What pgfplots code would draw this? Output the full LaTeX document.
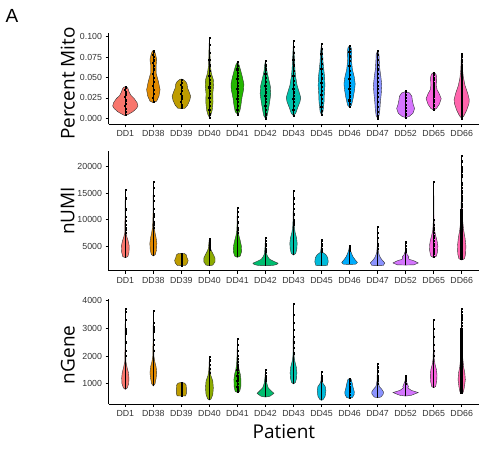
\documentclass[border=0pt]{standalone}
\usepackage{fontspec}
\setmainfont{Liberation Sans}
\newfontfamily\titlefont{Open Sans}
\usepackage{pgfplots}
\pgfplotsset{compat=1.18}

\definecolor{c1}{HTML}{F8766D}
\definecolor{c2}{HTML}{E18A00}
\definecolor{c3}{HTML}{BE9C00}
\definecolor{c4}{HTML}{8CAB00}
\definecolor{c5}{HTML}{24B700}
\definecolor{c6}{HTML}{00BE70}
\definecolor{c7}{HTML}{00C1AB}
\definecolor{c8}{HTML}{00BBDA}
\definecolor{c9}{HTML}{00ACFC}
\definecolor{c10}{HTML}{8B93FF}
\definecolor{c11}{HTML}{D575FE}
\definecolor{c12}{HTML}{F962DD}
\definecolor{c13}{HTML}{FF65AC}

\pgfplotsset{
  panel/.style={
    scale only axis, width=370pt, anchor=south west,
    xmin=0.4, xmax=13.6,
    xtick={1,...,13},
    xticklabels={DD1,DD38,DD39,DD40,DD41,DD42,DD43,DD45,DD46,DD47,DD52,DD65,DD66},
    axis x line*=bottom, axis y line*=left,
    tick align=outside, major tick length=3pt,
    scaled y ticks=false,
    axis line style={line width=0.6pt},
    every tick/.style={black, line width=0.6pt},
    ticklabel style={font=\fontsize{8.8}{10}\selectfont, text=black!80},
    ylabel style={font=\titlefont\fontsize{19}{20}\selectfont, anchor=center},
    clip=false,
  },
  vio/.style={draw=black!80, line width=0.4pt, forget plot},
  pts/.style={only marks, mark=square*, mark size=0.6pt, black, forget plot},
}

% half-width profile (y, w) mirrored about the category position
\newcommand\violin[3]{%
  \addplot[vio, fill=#2] table[row sep=\\, x expr=#1+\thisrow{w}, y=y] {#3};
  \addplot[vio, fill=#2] table[row sep=\\, x expr=#1-\thisrow{w}, y=y] {#3};
}
% dense strip of jittered points
\newcommand\vcol[4]{%
  \addplot[black, line width=#4, forget plot] coordinates {(#1,#2) (#1,#3)};
}

\begin{document}
\begin{tikzpicture}

%% ---------------- Percent Mito ----------------
\begin{axis}[panel, at={(108.5pt,324.7pt)}, height=91pt,
  ymin=-0.0074, ymax=0.104,
  ytick={0,0.025,0.05,0.075,0.1},
  yticklabels={0.000,0.025,0.050,0.075,0.100},
  ylabel={Percent Mito},
  ylabel style={at={(axis description cs:-0.11,0.45)}}]
\violin{1}{c1}{y w\\0.003 0\\0.005 0.12\\0.008 0.27\\0.012 0.4\\0.015 0.45\\0.019 0.42\\0.024 0.32\\0.028 0.2\\0.032 0.14\\0.036 0.1\\0.038 0.06\\0.0385 0\\}
\vcol{1}{0.003}{0.0385}{0.5pt}\vcol{1}{0.007}{0.034}{1.6pt}
\addplot[pts] coordinates {(1,0.038)(0.99,0.035)(1.01,0.032)(1,0.029)(0.99,0.026)(1.01,0.022)(1,0.018)(0.99,0.015)(1.01,0.012)(1,0.008)(1,0.004)};
\violin{2}{c2}{y w\\0.019 0\\0.021 0.12\\0.027 0.2\\0.035 0.24\\0.045 0.18\\0.055 0.1\\0.065 0.1\\0.072 0.12\\0.078 0.08\\0.082 0.04\\0.083 0\\}
\vcol{2}{0.019}{0.083}{0.5pt}\vcol{2}{0.022}{0.06}{1.3pt}
\addplot[pts] coordinates {(2,0.083)(2.01,0.081)(1.99,0.078)(2,0.075)(2.01,0.071)(1.99,0.068)(2,0.064)(2.01,0.06)(1.99,0.055)(2,0.05)(2.01,0.045)(1.99,0.04)(2,0.035)(2.01,0.03)(1.99,0.025)(2,0.02)};
\violin{3}{c3}{y w\\0.0118 0\\0.012 0.12\\0.016 0.22\\0.022 0.3\\0.027 0.33\\0.032 0.28\\0.037 0.22\\0.042 0.2\\0.045 0.15\\0.0475 0.06\\0.048 0\\}
\vcol{3}{0.012}{0.048}{0.5pt}\vcol{3}{0.015}{0.04}{0.9pt}
\addplot[pts] coordinates {(3,0.047)(3.01,0.044)(2.99,0.041)(3,0.038)(3.01,0.034)(2.99,0.03)(3,0.027)(3.01,0.024)(2.99,0.02)(3,0.016)(3,0.013)};
\violin{4}{c4}{y w\\0.001 0\\0.004 0.05\\0.01 0.1\\0.02 0.13\\0.03 0.12\\0.04 0.15\\0.047 0.14\\0.055 0.07\\0.065 0.03\\0.08 0.02\\0.099 0\\}
\vcol{4}{0.001}{0.099}{0.5pt}\vcol{4}{0.005}{0.05}{1pt}
\addplot[pts] coordinates {(4,0.099)(4,0.09)(4.01,0.08)(3.99,0.072)(4,0.065)(4.01,0.058)(3.99,0.052)(4,0.047)(4.01,0.043)(3.99,0.038)(4,0.034)(4.01,0.03)(3.99,0.025)(4,0.02)(4.01,0.015)(3.99,0.01)(4,0.005)(4,0.001)};
\violin{5}{c5}{y w\\0.005 0\\0.008 0.08\\0.015 0.12\\0.025 0.16\\0.035 0.22\\0.042 0.23\\0.05 0.18\\0.058 0.12\\0.065 0.06\\0.069 0\\}
\vcol{5}{0.005}{0.069}{0.5pt}\vcol{5}{0.01}{0.055}{0.9pt}
\addplot[pts] coordinates {(5,0.069)(5.01,0.064)(4.99,0.06)(5,0.056)(5.01,0.052)(4.99,0.048)(5,0.044)(5.01,0.04)(4.99,0.036)(5,0.032)(5.01,0.028)(4.99,0.024)(5,0.02)(5.01,0.015)(4.99,0.01)(5,0.005)};
\violin{6}{c6}{y w\\0 0\\0.003 0.06\\0.01 0.1\\0.02 0.15\\0.03 0.19\\0.04 0.17\\0.05 0.1\\0.058 0.05\\0.065 0.03\\0.07 0\\}
\vcol{6}{0}{0.07}{0.5pt}\vcol{6}{0.005}{0.05}{1.1pt}
\addplot[pts] coordinates {(6,0.07)(6,0.065)(6.01,0.06)(5.99,0.055)(6,0.05)(6.01,0.045)(5.99,0.04)(6,0.036)(6.01,0.032)(5.99,0.028)(6,0.024)(6.01,0.02)(5.99,0.015)(6,0.01)(6.01,0.005)(6,0)};
\violin{7}{c7}{y w\\0.003 0\\0.006 0.08\\0.013 0.15\\0.02 0.23\\0.025 0.26\\0.03 0.22\\0.04 0.13\\0.05 0.08\\0.06 0.05\\0.075 0.03\\0.095 0\\}
\vcol{7}{0.003}{0.095}{0.5pt}\vcol{7}{0.008}{0.05}{0.9pt}
\addplot[pts] coordinates {(7,0.095)(7,0.088)(7.01,0.08)(6.99,0.072)(7,0.065)(7.01,0.058)(6.99,0.052)(7,0.046)(7.01,0.041)(6.99,0.036)(7,0.032)(7.01,0.028)(6.99,0.024)(7,0.02)(7.01,0.015)(6.99,0.01)(7,0.003)};
\violin{8}{c8}{y w\\0.004 0\\0.008 0.05\\0.02 0.09\\0.03 0.1\\0.04 0.12\\0.05 0.11\\0.06 0.08\\0.07 0.05\\0.08 0.04\\0.091 0\\}
\vcol{8}{0.004}{0.091}{0.5pt}
\addplot[pts] coordinates {(8,0.091)(8.01,0.085)(7.99,0.079)(8,0.073)(8.01,0.067)(7.99,0.061)(8,0.055)(8.01,0.049)(7.99,0.044)(8,0.039)(8.01,0.034)(7.99,0.029)(8,0.024)(8.01,0.019)(7.99,0.014)(8,0.009)(8,0.004)};
\violin{9}{c9}{y w\\0.0135 0\\0.016 0.07\\0.025 0.13\\0.035 0.18\\0.042 0.2\\0.05 0.17\\0.06 0.1\\0.07 0.07\\0.08 0.08\\0.086 0.06\\0.089 0\\}
\vcol{9}{0.0135}{0.089}{0.5pt}\vcol{9}{0.02}{0.08}{0.7pt}
\addplot[pts] coordinates {(9,0.089)(9.01,0.085)(8.99,0.081)(9,0.076)(9.01,0.07)(8.99,0.064)(9,0.058)(9.01,0.053)(8.99,0.048)(9,0.044)(9.01,0.04)(8.99,0.036)(9,0.032)(9.01,0.027)(8.99,0.022)(9,0.018)(9,0.014)};
\violin{10}{c10}{y w\\0 0\\0.003 0.05\\0.01 0.08\\0.02 0.1\\0.03 0.13\\0.04 0.15\\0.05 0.12\\0.06 0.08\\0.07 0.06\\0.078 0.05\\0.083 0\\}
\vcol{10}{0}{0.083}{0.5pt}
\addplot[pts] coordinates {(10,0.083)(10.01,0.078)(9.99,0.072)(10,0.066)(10.01,0.06)(9.99,0.055)(10,0.05)(10.01,0.045)(9.99,0.04)(10,0.036)(10.01,0.031)(9.99,0.026)(10,0.02)(10.01,0.014)(9.99,0.008)(10,0.003)(10,0)};
\violin{11}{c11}{y w\\0.001 0\\0.002 0.12\\0.006 0.26\\0.012 0.32\\0.017 0.27\\0.022 0.24\\0.027 0.22\\0.031 0.14\\0.0327 0\\}
\vcol{11}{0.001}{0.0327}{0.5pt}
\addplot[pts] coordinates {(11,0.033)(11,0.029)(11.01,0.025)(10.99,0.021)(11,0.017)(11.01,0.013)(10.99,0.009)(11,0.005)(11,0.001)};
\violin{12}{c12}{y w\\0.01 0\\0.012 0.1\\0.017 0.2\\0.024 0.27\\0.03 0.2\\0.035 0.12\\0.04 0.1\\0.05 0.11\\0.054 0.08\\0.056 0\\}
\vcol{12}{0.01}{0.056}{0.5pt}
\addplot[pts] coordinates {(12,0.056)(12.01,0.053)(11.99,0.05)(12,0.047)(12.01,0.044)(11.99,0.041)(12,0.038)(12.01,0.035)(11.99,0.032)(12,0.029)(12.01,0.026)(11.99,0.023)(12,0.02)(12.01,0.016)(12,0.012)(12,0.01)};
\violin{13}{c13}{y w\\0 0\\0.003 0.08\\0.01 0.18\\0.018 0.26\\0.023 0.27\\0.03 0.22\\0.04 0.12\\0.05 0.06\\0.06 0.03\\0.07 0.02\\0.079 0\\}
\vcol{13}{0}{0.079}{0.5pt}\vcol{13}{0}{0.062}{2.2pt}
\addplot[pts] coordinates {(13,0.079)(13,0.076)(13.01,0.072)(12.99,0.069)(13,0.066)(13.01,0.063)(12.99,0.06)(13,0.003)(13,0)};
\end{axis}

%% ---------------- nUMI ----------------
\begin{axis}[panel, at={(108.5pt,178.3pt)}, height=119.7pt,
  ymin=340, ymax=22925,
  ytick={5000,10000,15000,20000},
  yticklabels={5000,10000,15000,20000},
  ylabel={nUMI},
  ylabel style={at={(axis description cs:-0.11,0.5)}}]
\violin{1}{c1}{y w\\2800 0\\3000 0.09\\3800 0.13\\5000 0.14\\6000 0.1\\6800 0.05\\7500 0.02\\10000 0.012\\15600 0\\}
\vcol{1}{2800}{15600}{0.6pt}\vcol{1}{3000}{7000}{1.1pt}
\addplot[pts] coordinates {(1,15600)(1,14000)(1,12000)(1,11800)(1,10500)(1,9800)(1,9000)(1,8500)(1,8000)(1,7500)};
\violin{2}{c2}{y w\\3100 0\\3400 0.07\\4200 0.11\\5500 0.125\\6500 0.1\\7500 0.06\\8500 0.03\\10000 0.015\\17200 0\\}
\vcol{2}{3100}{17200}{0.6pt}\vcol{2}{3200}{8000}{1.1pt}
\addplot[pts] coordinates {(2,17200)(2,16000)(2,14500)(2,13500)(2,12000)(2,11000)(2,10500)(2,9500)(2,9000)(2,8500)};
\violin{3}{c3}{y w\\1280 0\\1350 0.15\\1800 0.22\\2300 0.24\\2800 0.2\\3300 0.18\\3550 0.12\\3620 0\\}
\vcol{3}{1280}{3620}{0.9pt}
\addplot[pts] coordinates {(3,3600)(3,3300)(3,3000)(3,2700)(3,2400)(3,2100)(3,1800)(3,1500)(3,1300)};
\violin{4}{c4}{y w\\1280 0\\1400 0.12\\2000 0.2\\2700 0.2\\3300 0.15\\4000 0.08\\4500 0.04\\5500 0.02\\6450 0\\}
\vcol{4}{1280}{6450}{0.6pt}\vcol{4}{1300}{4500}{1.1pt}
\addplot[pts] coordinates {(4,6400)(4,6000)(4,5600)(4,5200)(4,4800)(4,4400)};
\violin{5}{c5}{y w\\2860 0\\3100 0.1\\4000 0.15\\5000 0.14\\6000 0.1\\7000 0.05\\8000 0.02\\10000 0.012\\12300 0\\}
\vcol{5}{2860}{12300}{0.6pt}\vcol{5}{2900}{7500}{1pt}
\addplot[pts] coordinates {(5,12300)(5,11500)(5,10500)(5,9500)(5,8500)(5,8000)(5,7500)};
\violin{6}{c6}{y w\\1280 0\\1320 0.25\\1500 0.4\\1750 0.45\\2100 0.3\\2500 0.15\\3000 0.08\\3500 0.04\\4500 0.02\\6500 0\\}
\vcol{6}{1280}{6500}{0.6pt}\vcol{6}{1300}{4000}{1.1pt}
\addplot[pts] coordinates {(6,6500)(6,6000)(6,5500)(6,5000)(6,4500)(6,4000)};
\violin{7}{c7}{y w\\3300 0\\3600 0.08\\4500 0.12\\5500 0.13\\6500 0.11\\7500 0.06\\8500 0.03\\10000 0.015\\15500 0\\}
\vcol{7}{3300}{15500}{0.6pt}\vcol{7}{3300}{9000}{1pt}
\addplot[pts] coordinates {(7,15400)(7,14000)(7,13000)(7,12000)(7,11000)(7,10000)(7,9500)(7,9000)};
\violin{8}{c8}{y w\\1280 0\\1320 0.2\\2000 0.24\\2800 0.22\\3400 0.15\\3800 0.04\\4500 0.015\\6100 0\\}
\vcol{8}{1280}{6100}{0.6pt}\vcol{8}{1300}{3700}{1.1pt}
\addplot[pts] coordinates {(8,6100)(8,5500)(8,5000)(8,4500)(8,4000)};
\violin{9}{c9}{y w\\1530 0\\1560 0.22\\1900 0.28\\2400 0.2\\3000 0.12\\3600 0.07\\4200 0.03\\5100 0\\}
\vcol{9}{1530}{5100}{0.6pt}\vcol{9}{1550}{4000}{1.1pt}
\addplot[pts] coordinates {(9,5100)(9,4800)(9,4500)(9,4200)};
\violin{10}{c10}{y w\\1280 0\\1320 0.2\\1800 0.26\\2300 0.17\\2800 0.1\\3300 0.06\\3800 0.03\\5000 0.012\\8650 0\\}
\vcol{10}{1280}{8650}{0.6pt}\vcol{10}{1300}{4000}{1.1pt}
\addplot[pts] coordinates {(10,8650)(10,7500)(10,6500)(10,5500)(10,5000)(10,4500)};
\violin{11}{c11}{y w\\1400 0\\1450 0.3\\1800 0.45\\2200 0.3\\2500 0.12\\2800 0.1\\3000 0.12\\3300 0.06\\4000 0.015\\5800 0\\}
\vcol{11}{1400}{5800}{0.6pt}\vcol{11}{1400}{3300}{1.1pt}
\addplot[pts] coordinates {(11,5800)(11,5700)(11,5000)(11,4500)(11,4000)};
\violin{12}{c12}{y w\\2800 0\\3100 0.1\\4000 0.14\\5000 0.15\\6000 0.12\\7000 0.07\\8000 0.03\\9500 0.015\\17100 0\\}
\vcol{12}{2800}{17100}{0.6pt}\vcol{12}{2800}{9000}{0.9pt}
\addplot[pts] coordinates {(12,17100)(12,10000)(12,9000)(12,8500)(12,8000)(12,7500)(12,7000)(12,6500)(12,6000)(12,5500)(12,5000)(12,4500)(12,4000)(12,3500)(12,3000)};
\violin{13}{c13}{y w\\2350 0\\2600 0.1\\3500 0.14\\5000 0.15\\6500 0.12\\8000 0.07\\9500 0.04\\11000 0.025\\14000 0.015\\22000 0\\}
\vcol{13}{2350}{22000}{0.6pt}\vcol{13}{2400}{12000}{2.4pt}
\addplot[pts] coordinates {(13,22000)(13,21000)(13,20000)(13,19500)(13,19000)(13,18500)(13,18000)(13,17000)(13,16500)(13,16000)(13,15500)(13,15000)(13,14500)(13,14000)(13,13500)(13,13000)(13,12500)};
\end{axis}

%% ---------------- nGene ----------------
\begin{axis}[panel, at={(108.5pt,45pt)}, height=104.7pt,
  ymin=267, ymax=4050,
  ytick={1000,2000,3000,4000},
  yticklabels={1000,2000,3000,4000},
  ylabel={nGene},
  ylabel style={at={(axis description cs:-0.11,0.47)}},
  xlabel={Patient},
  xlabel style={font=\titlefont\fontsize{19}{20}\selectfont, at={(axis description cs:0.474,0)}, anchor=center, yshift=-28pt}]
\violin{1}{c1}{y w\\795 0\\850 0.07\\1000 0.12\\1200 0.13\\1400 0.11\\1600 0.06\\1800 0.02\\2200 0.012\\3700 0\\}
\vcol{1}{795}{3700}{0.6pt}\vcol{1}{800}{2000}{1pt}
\addplot[pts] coordinates {(1,3700)(1,3600)(1,3300)(1,3000)(1,2900)(1,2800)(1,2500)(1,2200)(1,2000)};
\violin{2}{c2}{y w\\915 0\\1000 0.06\\1200 0.1\\1400 0.12\\1600 0.1\\1800 0.05\\2000 0.02\\2500 0.012\\3640 0\\}
\vcol{2}{915}{3640}{0.6pt}\vcol{2}{920}{2200}{1pt}
\addplot[pts] coordinates {(2,3640)(2,3200)(2,3050)(2,3000)(2,2900)(2,2600)(2,2400)(2,2200)};
\violin{3}{c3}{y w\\554 0\\560 0.15\\650 0.18\\800 0.18\\950 0.17\\1020 0.12\\1048 0\\}
\vcol{3}{554}{1048}{0.6pt}
\addplot[pts] coordinates {(3,1040)(3,980)(3,920)(3,860)(3,800)(3,740)(3,680)(3,620)(3,560)};
\violin{4}{c4}{y w\\410 0\\450 0.06\\600 0.12\\850 0.14\\1100 0.12\\1300 0.05\\1500 0.02\\1976 0\\}
\vcol{4}{410}{1976}{0.6pt}\vcol{4}{420}{1900}{1.1pt}
\addplot[pts] coordinates {(4,1976)(4,1850)(4,1700)(4,1550)(4,1400)};
\violin{5}{c5}{y w\\687 0\\720 0.08\\900 0.12\\1150 0.125\\1350 0.1\\1500 0.06\\1700 0.03\\2000 0.015\\2620 0\\}
\vcol{5}{687}{2620}{0.6pt}\vcol{5}{700}{1700}{0.8pt}
\addplot[pts] coordinates {(5,2620)(5,2400)(5,2200)(5,2000)(5,1900)(5,1800)(5,1700)(5.01,1600)(4.99,1500)(5.01,1400)(4.99,1300)(5.01,1200)(4.99,1100)(5.01,1000)(4.99,900)(5,800)(5,700)};
\violin{6}{c6}{y w\\518 0\\540 0.15\\650 0.3\\750 0.2\\850 0.1\\1000 0.05\\1200 0.02\\1494 0\\}
\vcol{6}{518}{1494}{0.6pt}\vcol{6}{520}{1100}{1.2pt}
\addplot[pts] coordinates {(6,1494)(6,1400)(6,1300)(6,1200)(6,1100)};
\violin{7}{c7}{y w\\990 0\\1050 0.07\\1200 0.11\\1400 0.12\\1600 0.1\\1800 0.05\\2000 0.02\\2500 0.012\\3900 0\\}
\vcol{7}{990}{3900}{0.6pt}\vcol{7}{1000}{2000}{1pt}
\addplot[pts] coordinates {(7,3900)(7,3500)(7,3200)(7,2950)(7,2700)(7,2500)(7,2300)(7,2100)};
\violin{8}{c8}{y w\\398 0\\430 0.06\\550 0.13\\750 0.155\\900 0.13\\1000 0.06\\1100 0.02\\1434 0\\}
\vcol{8}{398}{1434}{0.6pt}\vcol{8}{400}{1100}{1pt}
\addplot[pts] coordinates {(8,1434)(8,1300)(8,1200)(8,1100)};
\violin{9}{c9}{y w\\470 0\\500 0.1\\600 0.16\\700 0.17\\850 0.13\\1000 0.1\\1150 0.06\\1193 0\\}
\vcol{9}{470}{1193}{1pt}
\addplot[pts] coordinates {(9,1190)(9,1100)(9,1000)(9,900)(9,800)(9,700)(9,600)(9,500)};
\violin{10}{c10}{y w\\494 0\\520 0.12\\620 0.2\\700 0.21\\800 0.15\\900 0.06\\1100 0.02\\1400 0.012\\1735 0\\}
\vcol{10}{494}{1735}{0.6pt}\vcol{10}{500}{1000}{1pt}
\addplot[pts] coordinates {(10,1735)(10,1600)(10,1450)(10,1300)(10,1200)(10,1100)(10,1000)};
\violin{11}{c11}{y w\\554 0\\580 0.2\\680 0.45\\760 0.2\\850 0.08\\900 0.1\\1000 0.06\\1100 0.02\\1280 0\\}
\vcol{11}{554}{1280}{0.6pt}\vcol{11}{560}{1000}{1pt}
\addplot[pts] coordinates {(11,1280)(11,1270)(11,1200)(11,1100)(11,1000)};
\violin{12}{c12}{y w\\855 0\\900 0.07\\1100 0.11\\1300 0.12\\1500 0.1\\1700 0.05\\1900 0.02\\2300 0.012\\3300 0\\}
\vcol{12}{855}{3300}{0.6pt}\vcol{12}{860}{2000}{1pt}
\addplot[pts] coordinates {(12,3300)(12,3000)(12,2700)(12,2400)(12,2200)(12,2000)};
\violin{13}{c13}{y w\\638 0\\700 0.06\\900 0.1\\1150 0.13\\1400 0.11\\1600 0.07\\1900 0.04\\2300 0.02\\3000 0.012\\3700 0\\}
\vcol{13}{638}{3700}{0.6pt}\vcol{13}{640}{3000}{2.4pt}
\addplot[pts] coordinates {(13,3700)(13,3600)(13,3500)(13,3400)(13,3300)(13,3200)(13,3100)(13,3000)(13,2900)(13,2800)};
\end{axis}

\node[font=\fontsize{19}{20}\selectfont] at (12pt,433pt) {A};
\pgfresetboundingbox
\path (0pt,0pt) rectangle (479pt,449pt);
\end{tikzpicture}
\end{document}
